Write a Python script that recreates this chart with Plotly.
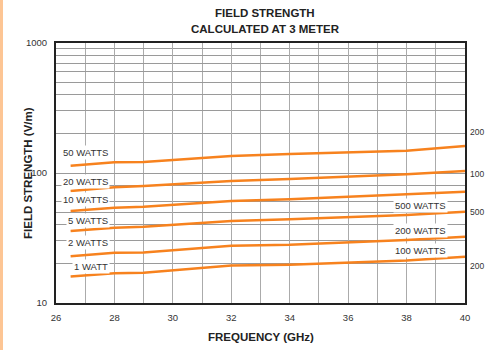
import numpy as np
import plotly.graph_objects as go

# frequency points (GHz) where the curves bend
freq = [26.5, 28, 29, 32, 34, 38, 40]

# field strength (V/m), one list per curve
w50 = [113.8, 120.9, 121.5, 135.2, 140.0, 148.4, 161.3]
w20 = [72.7, 77.6, 79.4, 86.8, 89.9, 97.7, 103.6]
w10 = [51.0, 54.1, 55.0, 60.9, 62.8, 68.6, 71.8]
w5 = [35.8, 37.9, 38.6, 42.7, 44.0, 47.5, 50.4]
w2 = [22.9, 24.4, 24.5, 27.6, 28.1, 30.5, 32.4]
w1 = [16.0, 16.9, 17.1, 19.4, 19.7, 21.2, 22.7]

curves = [w50, w20, w10, w5, w2, w1]

left_labels = ['50 WATTS', '20 WATTS', '10 WATTS', '5 WATTS', '2 WATTS', '1 WATT']
right_labels = ['500 WATTS', '200 WATTS', '100 WATTS']
edge_labels = ['200', '100', '500', '200']
title_lines = ['FIELD STRENGTH', 'CALCULATED AT 3 METER']

y_ticks = [10, 100, 1000]
y_minor = [20, 30, 40, 50, 60, 80, 200, 300, 400, 500, 600, 700, 800, 900]

ORANGE = '#F7821E'
FONT = 'Liberation Sans, Arial, sans-serif'

fig = go.Figure()

for vals in curves:
    fig.add_trace(go.Scatter(
        x=freq, y=vals, mode='lines',
        line=dict(color=ORANGE, width=2.5),
        showlegend=False, hoverinfo='skip'
    ))

# label placement (data coords)
left_pos = [142.6, 85.3, 62.0, 43.5, 29.0, 19.2]
right_pos = [56.0, 36.4, 25.2]
edge_pos = [206.6, 98.2, 50.1, 19.4]

for txt, yv in zip(left_labels, left_pos):
    fig.add_annotation(x=27.85, y=np.log10(yv), xref='x', yref='y', text=txt,
                       showarrow=False, xanchor='right', yanchor='middle',
                       bgcolor='white', borderpad=1,
                       font=dict(family=FONT, size=9.5, color='#333'))

for txt, yv in zip(right_labels, right_pos):
    fig.add_annotation(x=38.47, y=np.log10(yv), xref='x', yref='y', text=txt,
                       showarrow=False, xanchor='center', yanchor='middle',
                       bgcolor='white', borderpad=1,
                       font=dict(family=FONT, size=9.5, color='#333'))

for txt, yv in zip(edge_labels, edge_pos):
    fig.add_annotation(x=(468 - 56) / 409, y=np.log10(yv), xref='paper', yref='y', text=txt,
                       showarrow=False, xanchor='left', yanchor='middle',
                       font=dict(family=FONT, size=8.5, color='#333'))

# two-line title
for txt, yc in zip(title_lines, [13, 29]):
    fig.add_annotation(x=(265 - 56) / 409, y=(303 - yc) / 260, xref='paper', yref='paper',
                       text='<b>' + txt + '</b>', showarrow=False,
                       xanchor='center', yanchor='middle',
                       font=dict(family=FONT, size=11.5, color='#222'))

# axis titles
fig.add_annotation(x=(28 - 56) / 409, y=0.5, xref='paper', yref='paper',
                   text='<b>FIELD STRENGTH (V/m)</b>', textangle=-90, showarrow=False,
                   xanchor='center', yanchor='middle',
                   font=dict(family=FONT, size=11.5, color='#222'))
fig.add_annotation(x=0.5, y=(303 - 337) / 260, xref='paper', yref='paper',
                   text='<b>FREQUENCY (GHz)</b>', showarrow=False,
                   xanchor='center', yanchor='middle',
                   font=dict(family=FONT, size=11.5, color='#222'))

# peach strip on the left edge
fig.add_shape(type='rect', xref='paper', yref='paper',
              x0=-56 / 409, x1=-53 / 409, y0=-47 / 260, y1=303 / 260,
              fillcolor='#FDC594', line=dict(width=0), layer='below')

fig.update_layout(
    width=485, height=350,
    margin=dict(l=56, r=20, t=43, b=47),
    paper_bgcolor='white', plot_bgcolor='white',
    font=dict(family=FONT, size=9.5, color='#333'),
    showlegend=False
)

fig.update_xaxes(
    range=[26, 40], tick0=26, dtick=2, showgrid=True,
    gridcolor='#ababab', gridwidth=1.2,
    minor=dict(dtick=1, showgrid=True, gridcolor='#ababab', gridwidth=1.2),
    showline=True, linecolor='#222', linewidth=2, mirror=True,
    zeroline=False, ticks='', ticklabelstandoff=5,
    tickfont=dict(family=FONT, size=9.5, color='#333')
)

fig.update_yaxes(
    type='log', range=[1, 3], tickmode='array', tickvals=y_ticks,
    ticktext=[str(v) for v in y_ticks],
    showgrid=True, gridcolor='#9a9a9a', gridwidth=1.2,
    minor=dict(tickmode='array', tickvals=y_minor, showgrid=True,
               gridcolor='#9a9a9a', gridwidth=1.2),
    showline=True, linecolor='#222', linewidth=2, mirror=True,
    zeroline=False, ticks='', ticklabelstandoff=5,
    tickfont=dict(family=FONT, size=9.5, color='#333')
)

# drop the default page margin so the figure sits at the window's corner
fig.write_html('out.html', config={'displayModeBar': False},
               post_script="document.body.style.margin='0px';")
